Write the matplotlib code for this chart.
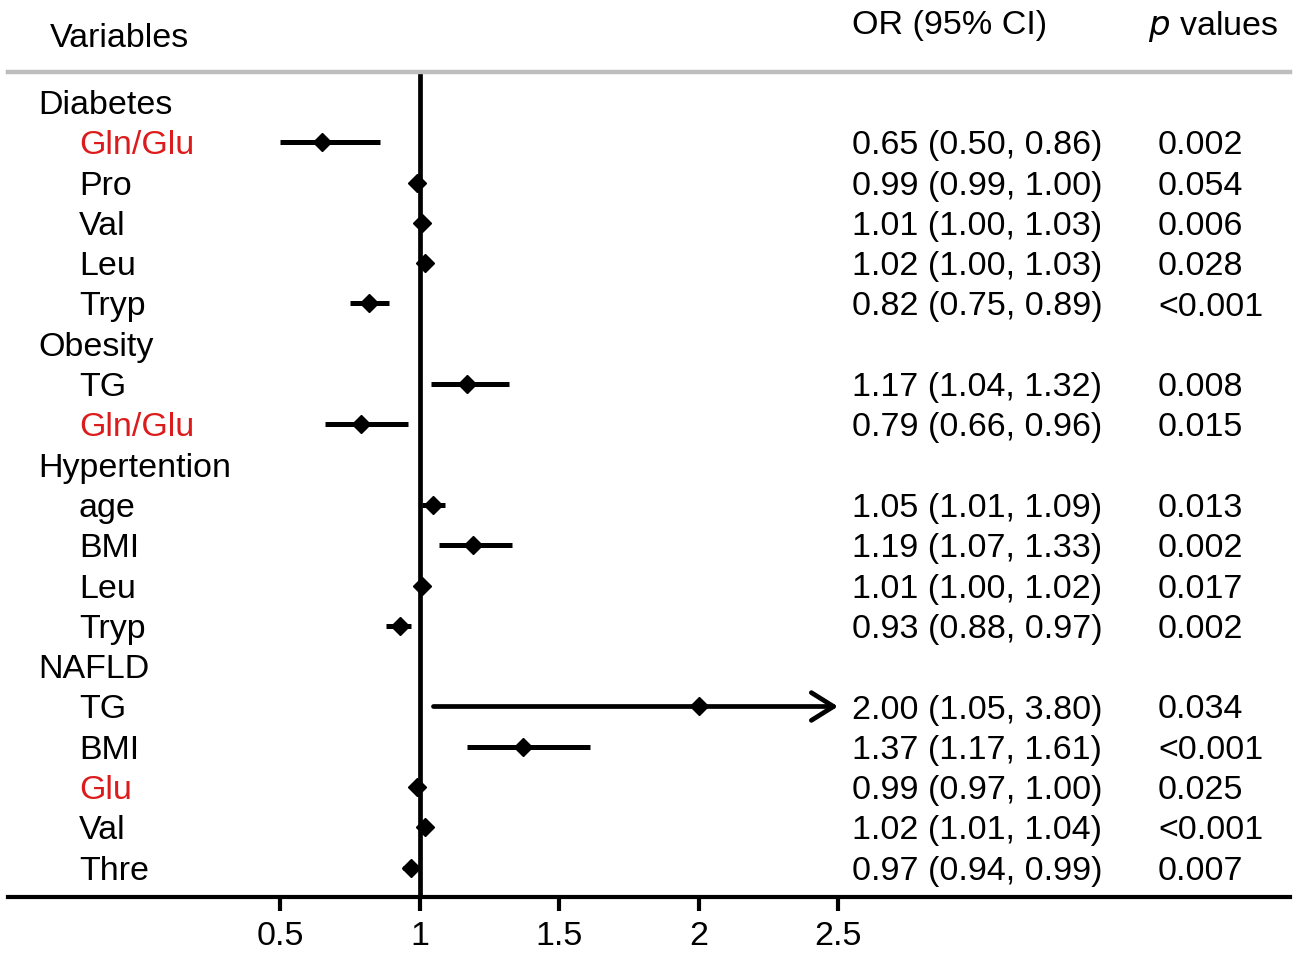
import numpy as np
import matplotlib
matplotlib.use('Agg')
import matplotlib.pyplot as plt
import matplotlib.transforms as mtransforms

plt.rcParams['font.family'] = ['Liberation Sans', 'DejaVu Sans']

labels = ['Diabetes', 'Gln/Glu', 'Pro', 'Val', 'Leu', 'Tryp',
          'Obesity', 'TG', 'Gln/Glu',
          'Hypertention', 'age', 'BMI', 'Leu', 'Tryp',
          'NAFLD', 'TG', 'BMI', 'Glu', 'Val', 'Thre']
is_group = [True, False, False, False, False, False,
            True, False, False,
            True, False, False, False, False,
            True, False, False, False, False, False]
is_red = [False, True, False, False, False, False,
          False, False, True,
          False, False, False, False, False,
          False, False, False, True, False, False]
# OR, lower, upper (None for group header rows)
odds = [None, 0.65, 0.99, 1.01, 1.02, 0.82,
        None, 1.17, 0.79,
        None, 1.05, 1.19, 1.01, 0.93,
        None, 2.00, 1.37, 0.99, 1.02, 0.97]
lower = [None, 0.50, 0.99, 1.00, 1.00, 0.75,
         None, 1.04, 0.66,
         None, 1.01, 1.07, 1.00, 0.88,
         None, 1.05, 1.17, 0.97, 1.01, 0.94]
upper = [None, 0.86, 1.00, 1.03, 1.03, 0.89,
         None, 1.32, 0.96,
         None, 1.09, 1.33, 1.02, 0.97,
         None, 3.80, 1.61, 1.00, 1.04, 0.99]
pvals = [None, '0.002', '0.054', '0.006', '0.028', '<0.001',
         None, '0.008', '0.015',
         None, '0.013', '0.002', '0.017', '0.002',
         None, '0.034', '<0.001', '0.025', '<0.001', '0.007']
xticks = [0.5, 1, 1.5, 2, 2.5]
clip_max = 2.5

W, H = 1299, 955
fig = plt.figure(figsize=(W / 100, H / 100), dpi=100)
ax_left, ax_right = 8, 1290
ax_top, ax_bot = 72, 897
ax = fig.add_axes([ax_left / W, 1 - ax_bot / H, (ax_right - ax_left) / W, (ax_bot - ax_top) / H])

# x: 0.5 at px 280, 2.5 at px 838
ppu = (838 - 280) / 2.0
ax.set_xlim(0.5 - (280 - ax_left) / ppu, 0.5 + (ax_right - 280) / ppu)
row_px0, row_step = 102, 40.3
ax.set_ylim((ax_bot - row_px0) / row_step, (ax_top - row_px0) / row_step)

for s in ['left', 'right']:
    ax.spines[s].set_visible(False)
ax.spines['top'].set_color('#bdbdbd')
ax.spines['top'].set_linewidth(3.2)
ax.spines['bottom'].set_linewidth(3.0)
ax.set_yticks([])
ax.set_xticks(xticks)
ax.set_xticklabels(['0.5', '1', '1.5', '2', '2.5'])
ax.tick_params(axis='x', direction='out', length=10, width=3.0, labelsize=24.5, pad=7)

ax.axvline(1, color='black', lw=3.4, zorder=1)

tr = mtransforms.blended_transform_factory(fig.transFigure, ax.transData)
fs = 24.5
for i, lab in enumerate(labels):
    x = 38 if is_group[i] else 79
    ax.text(x / W, i, lab, transform=tr, fontsize=fs, va='center_baseline', ha='left',
            color='#dc1c1c' if is_red[i] else 'black', clip_on=False)
    if odds[i] is None:
        continue
    hi = min(upper[i], clip_max)
    if upper[i] > clip_max:
        ax.annotate('', xy=(hi, i), xytext=(lower[i], i),
                    arrowprops=dict(arrowstyle='->,head_length=0.8,head_width=0.5',
                                    mutation_scale=20, lw=3.4, color='black',
                                    shrinkA=0, shrinkB=0))
    else:
        ax.plot([lower[i], hi], [i, i], color='black', lw=3.6, solid_capstyle='butt', zorder=2)
    ax.plot(odds[i], i, marker='D', color='black', ms=9.5, zorder=3)
    ax.text(852 / W, i, f'{odds[i]:.2f} ({lower[i]:.2f}, {upper[i]:.2f})', transform=tr,
            fontsize=fs, va='center_baseline', ha='left', clip_on=False)
    ax.text(1158 / W, i, pvals[i], transform=tr, fontsize=fs, va='center_baseline',
            ha='left', clip_on=False)

fig.text(50 / W, 1 - 35 / H, 'Variables', fontsize=fs, va='center_baseline', ha='left')
fig.text(852 / W, 1 - 22 / H, 'OR (95% CI)', fontsize=fs, va='center_baseline', ha='left')
fig.text(1148 / W, 1 - 22 / H, r'$\it{p}$ values', fontsize=fs, va='center_baseline', ha='left')

fig.savefig('out.png', dpi=100)
